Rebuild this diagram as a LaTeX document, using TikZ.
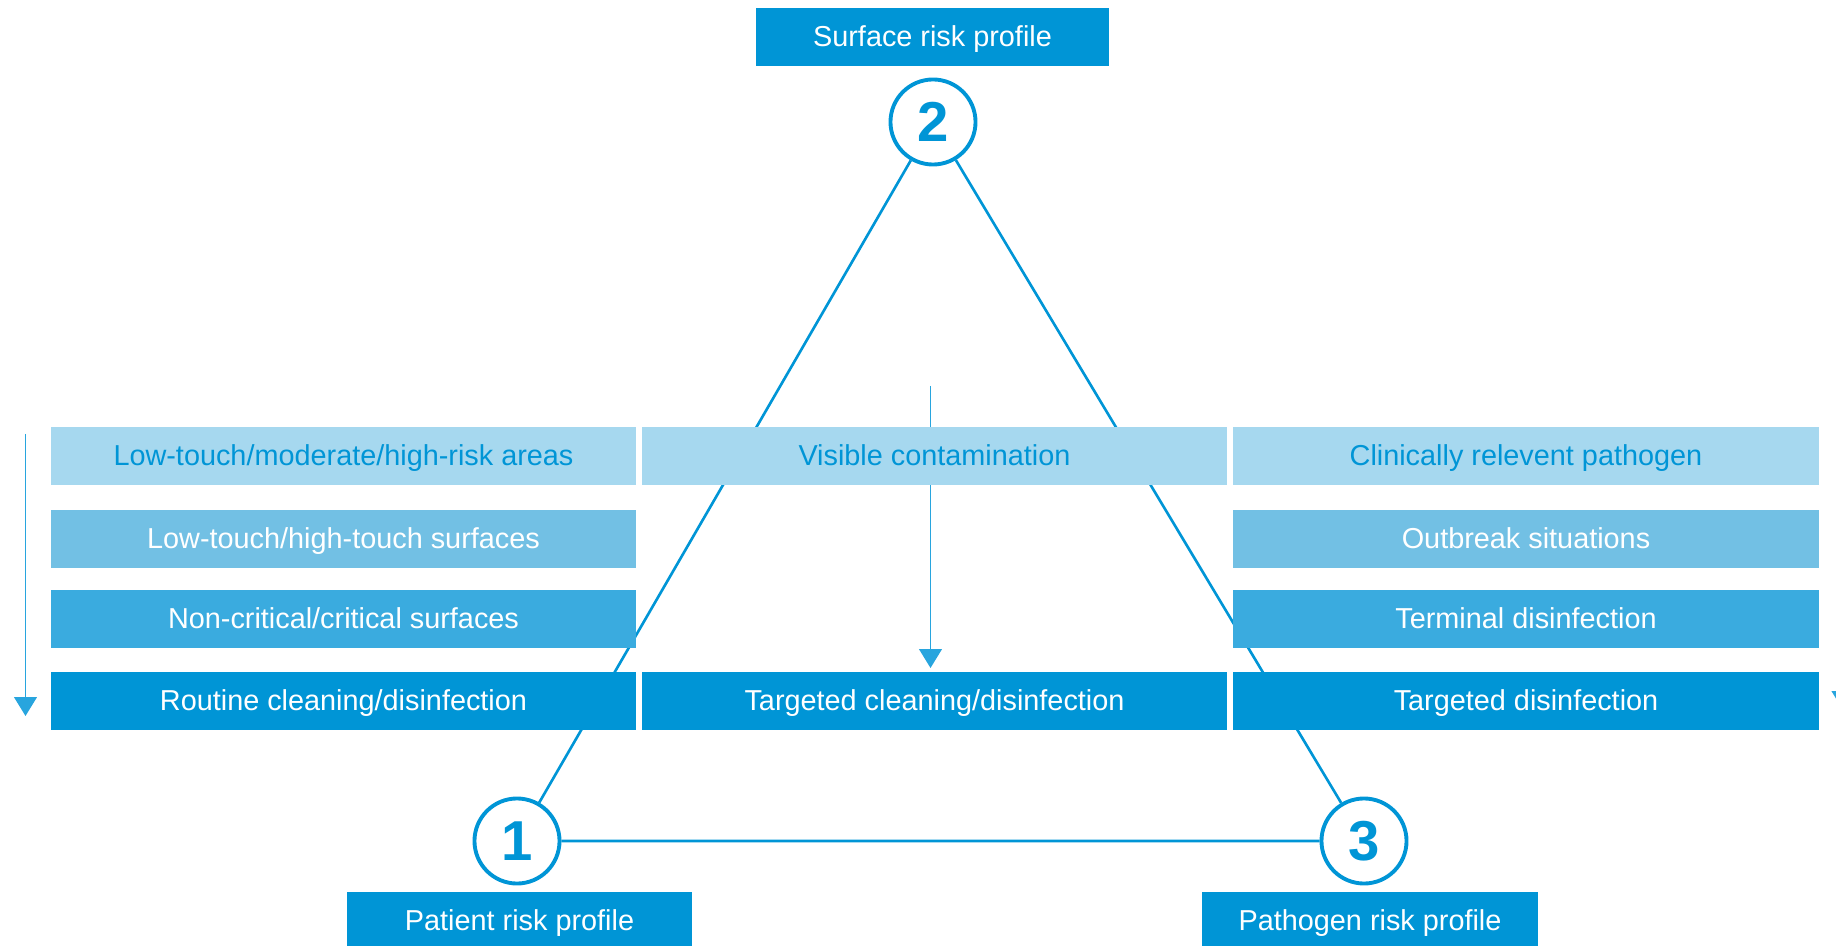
\documentclass[tikz,border=0pt]{standalone}
\usepackage{fontspec}
\setmainfont{Liberation Sans}
\usetikzlibrary{arrows.meta}

\definecolor{bleu}{RGB}{0,149,214}
\definecolor{bleuA}{RGB}{166,216,239}
\definecolor{bleuB}{RGB}{114,192,228}
\definecolor{bleuC}{RGB}{58,171,223}
\definecolor{trait}{RGB}{40,165,222}

\tikzset{
  box/.style={minimum width=5.85cm, minimum height=0.58cm, inner sep=0pt,
    text height=0.716em, text depth=0.18em,
    font=\fontsize{8.2}{10}\selectfont, text=white},
  profil/.style={box, fill=bleu, minimum height=0.58cm},
  num/.style={circle, draw=bleu, line width=1.1pt, fill=white, minimum size=0.85cm,
    inner sep=0pt, text=bleu, font=\fontsize{16}{18}\selectfont\bfseries},
  cote/.style={draw=bleu, line width=0.75pt},
  fleche/.style={draw=trait, line width=0.45pt, -{Triangle[width=6.5pt,length=5.4pt]}}
}

\begin{document}
\begin{tikzpicture}[x=0.01cm, y=-0.01cm]
    \useasboundingbox (0,0) rectangle (1836,946);

    % Sommets du triangle
    \node[num] (c2) at (933,122) {2};
    \node[num] (c1) at (517,841) {1};
    \node[num] (c3) at (1364,841) {3};

    % Profils
    \node[profil, minimum width=3.53cm] (surface) at (932.5,37) {Surface risk profile};
    \node[profil, minimum width=3.45cm] (patient) at (519.5,921) {Patient risk profile};
    \node[profil, minimum width=3.36cm] (pathogen) at (1370,921) {Pathogen risk profile};

    % Triangle
    \draw[cote] (c2) -- (c1) -- (c3) -- (c2);

    % Fleches verticales
    \coordinate (hautG) at (25.5,434);
    \coordinate (basG) at (25.5,716);
    \coordinate (hautM) at (930.5,386);
    \coordinate (basM) at (930.5,668);
    \coordinate (hautD) at (1843,430);
    \coordinate (basD) at (1843,710);
    \draw[fleche] (hautG) -- (basG);
    \draw[fleche] (hautM) -- (basM);
    \draw[fleche] (hautD) -- (basD);

    % Colonne gauche
    \node[box, fill=bleuA, text=bleu] (g1) at (343.5,456) {Low-touch/moderate/high-risk areas};
    \node[box, fill=bleuB] (g2) at (343.5,539) {Low-touch/high-touch surfaces};
    \node[box, fill=bleuC] (g3) at (343.5,619) {Non-critical/critical surfaces};
    \node[box, fill=bleu] (g4) at (343.5,701) {Routine cleaning/disinfection};

    % Colonne du milieu
    \node[box, fill=bleuA, text=bleu] (m1) at (934.5,456) {Visible contamination};
    \node[box, fill=bleu] (m4) at (934.5,701) {Targeted cleaning/disinfection};

    % Colonne droite
    \node[box, fill=bleuA, text=bleu] (d1) at (1526,456) {Clinically relevent pathogen};
    \node[box, fill=bleuB] (d2) at (1526,539) {Outbreak situations};
    \node[box, fill=bleuC] (d3) at (1526,619) {Terminal disinfection};
    \node[box, fill=bleu] (d4) at (1526,701) {Targeted disinfection};
\end{tikzpicture}
\end{document}
